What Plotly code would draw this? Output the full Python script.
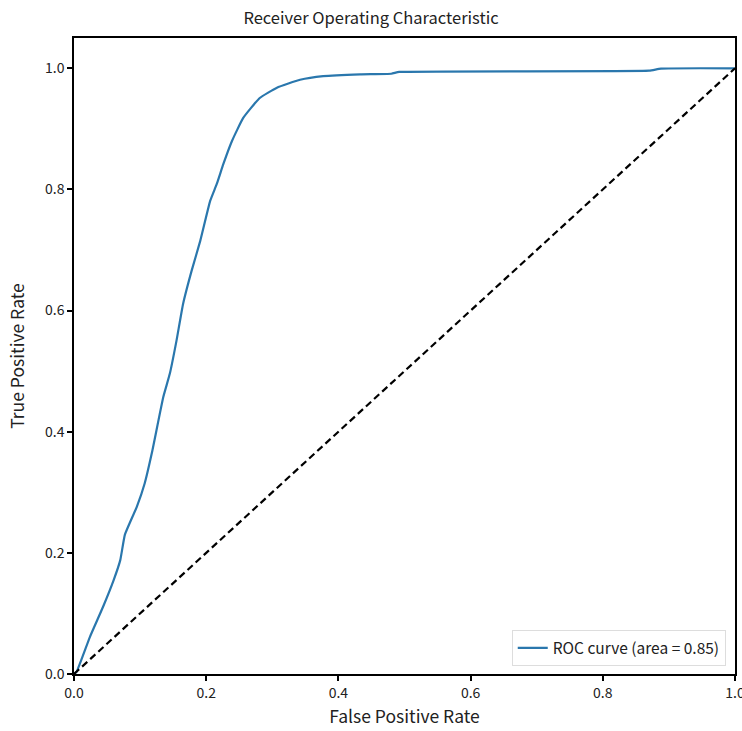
import plotly.graph_objects as go

fpr = [0.0, 0.004, 0.024, 0.044, 0.060, 0.070, 0.077, 0.095, 0.107, 0.118,
       0.135, 0.145, 0.155, 0.165, 0.178, 0.191, 0.206, 0.216, 0.226, 0.239,
       0.256, 0.281, 0.307, 0.342, 0.377, 0.433, 0.480, 0.492, 0.870, 0.888, 1.0]
tpr = [0.0, 0.004, 0.061, 0.111, 0.155, 0.188, 0.230, 0.276, 0.315, 0.366,
       0.457, 0.496, 0.550, 0.611, 0.666, 0.715, 0.781, 0.809, 0.842, 0.880,
       0.918, 0.951, 0.968, 0.981, 0.987, 0.990, 0.991, 0.994, 0.996, 0.9995, 1.0]
diag = [0.0, 1.0]
roc_auc = 0.85

FONT = "Noto Sans CJK SC, Source Sans Pro, Lato, sans-serif"

fig = go.Figure()
fig.add_trace(go.Scatter(x=fpr, y=tpr, mode="lines",
                         line=dict(color="#2a77ad", width=2.2, shape="spline", smoothing=0.4),
                         name=f"ROC curve (area = {roc_auc:.2f})"))
fig.add_trace(go.Scatter(x=diag, y=diag, mode="lines",
                         line=dict(color="black", width=2.2, dash="7px,4px"),
                         showlegend=False))

axis_common = dict(showgrid=False, zeroline=False, showline=True, linecolor="black",
                   linewidth=1.5, mirror=True, ticks="outside", ticklen=5,
                   tickwidth=1.5, tickcolor="black", ticklabeloverflow="allow",
                   automargin=False,
                   tickfont=dict(family=FONT, size=14, color="#222"))

fig.update_layout(
    width=742, height=731,
    margin=dict(l=74, r=7, t=38, b=57),
    paper_bgcolor="white", plot_bgcolor="white",
    title=dict(text="Receiver Operating Characteristic", x=0.5, xanchor="center",
               y=1 - 18 / 731, yanchor="middle",
               font=dict(family=FONT, size=16.5, color="#222")),
    xaxis=dict(range=[0, 1], tickvals=[0, 0.2, 0.4, 0.6, 0.8, 1.0],
               ticktext=["0.0", "0.2", "0.4", "0.6", "0.8", "1.0"],
               title=dict(text="False Positive Rate", standoff=10,
                          font=dict(family=FONT, size=17.5, color="#222")),
               **axis_common),
    yaxis=dict(range=[0, 1.05], tickvals=[0, 0.2, 0.4, 0.6, 0.8, 1.0],
               ticktext=["0.0", "0.2", "0.4", "0.6", "0.8", "1.0"],
               title=dict(text="True Positive Rate", standoff=16,
                          font=dict(family=FONT, size=17.5, color="#222")),
               **axis_common),
    legend=dict(x=0.986, y=0.012, xanchor="right", yanchor="bottom",
                bgcolor="rgba(255,255,255,0.9)", bordercolor="#ddd", borderwidth=1,
                font=dict(family=FONT, size=15.5, color="#222")),
)

fig.write_html("out.html")
